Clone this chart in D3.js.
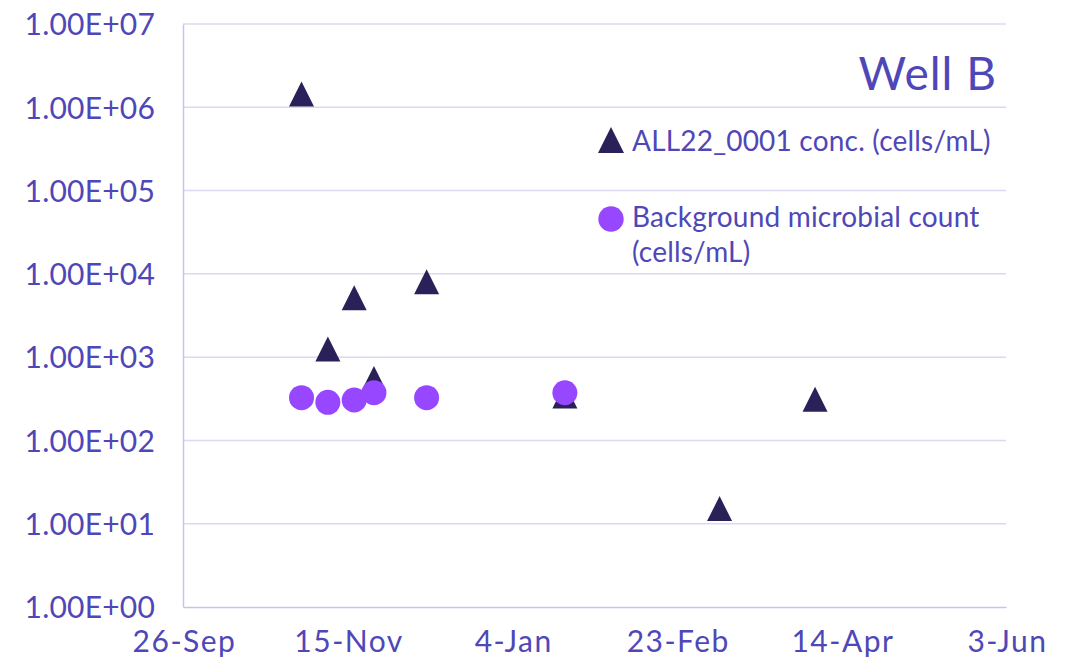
<!DOCTYPE html>
<html>
<head>
<meta charset="utf-8">
<script src="https://cdn.jsdelivr.net/npm/d3@7"></script>
<style>
  html, body { margin: 0; padding: 0; background: #fff; }
  svg text { font-family: "Lato", "Noto Sans", sans-serif; fill: #4F47B8; }
</style>
</head>
<body>
<svg id="chart" width="1073" height="660"></svg>
<script>
// Sampling dates (day-month-year)
const allDates = ["2022-11-01", "2022-11-09", "2022-11-17", "2022-11-23", "2022-12-09", "2023-01-20", "2023-03-08", "2023-04-06"];
// ALL22_0001 concentration (cells/mL)
const allValues = [1.44e6, 1250, 5170, 554, 8020, 341, 15.2, 312];
// Background microbial count (cells/mL)
const bgDates = ["2022-11-01", "2022-11-09", "2022-11-17", "2022-11-23", "2022-12-09", "2023-01-20"];
const bgValues = [326, 287, 306, 374, 326, 374];
// Axis ticks
const xTickDates = ["2022-09-26", "2022-11-15", "2023-01-04", "2023-02-23", "2023-04-14", "2023-06-03"];
const yTickValues = [1, 10, 100, 1e3, 1e4, 1e5, 1e6, 1e7];

const parse = d3.utcParse("%Y-%m-%d");
const svg = d3.select("#chart");
const margin = { left: 183, right: 1006, top: 24, bottom: 607 };

const x = d3.scaleUtc()
  .domain([parse(xTickDates[0]), parse(xTickDates[xTickDates.length - 1])])
  .range([margin.left, margin.right]);
const y = d3.scaleLog().domain([1, 1e7]).range([margin.bottom, margin.top]);

// Horizontal gridlines
svg.append("g").selectAll("line")
  .data(yTickValues.slice(1))
  .join("line")
  .attr("x1", margin.left).attr("x2", margin.right)
  .attr("y1", d => y(d)).attr("y2", d => y(d))
  .attr("stroke", "#DCD8F0").attr("stroke-width", 1.5);

// Y axis
const yAxis = svg.append("g")
  .attr("transform", `translate(${margin.left},0)`)
  .call(d3.axisLeft(y).tickValues(yTickValues)
    .tickFormat(d => d3.format(".2e")(d).replace("e", "E").replace(/E([+-])(\d)$/, "E$10$2"))
    .tickSize(0).tickPadding(28));
yAxis.select(".domain").attr("stroke", "#C9C3EA").attr("stroke-width", 1.5);
yAxis.selectAll("text").attr("font-size", 30).attr("letter-spacing", 0.2)
  .attr("fill", "#4F47B8").attr("dy", "0.36em");

// X axis
const xAxis = svg.append("g")
  .attr("transform", `translate(0,${margin.bottom})`)
  .call(d3.axisBottom(x).tickValues(xTickDates.map(parse))
    .tickFormat(d3.utcFormat("%-d-%b")).tickSize(0).tickPadding(24));
xAxis.select(".domain").attr("stroke", "#C9C3EA").attr("stroke-width", 1.5);
xAxis.selectAll("text").attr("font-size", 30).attr("letter-spacing", 1.5)
  .attr("fill", "#4F47B8").attr("dx", "1");

// Triangle centred on its bounding box
const triPath = s => `M0,${-s / 2}L${s / 2},${s / 2}L${-s / 2},${s / 2}Z`;

// ALL22_0001 markers
svg.append("g").selectAll("path")
  .data(allDates.map((d, i) => ({ date: parse(d), value: allValues[i] })))
  .join("path")
  .attr("transform", d => `translate(${x(d.date)},${y(d.value)})`)
  .attr("d", triPath(25))
  .attr("fill", "#2A2158");

// Background count markers
svg.append("g").selectAll("circle")
  .data(bgDates.map((d, i) => ({ date: parse(d), value: bgValues[i] })))
  .join("circle")
  .attr("cx", d => x(d.date)).attr("cy", d => y(d.value))
  .attr("r", 12.5)
  .attr("fill", "#9747FF");

// Title
svg.append("text").attr("x", 997).attr("y", 90).attr("text-anchor", "end")
  .attr("font-size", 46).attr("letter-spacing", 1).text("Well B");

// Legend
const legend = svg.append("g");
legend.append("path").attr("transform", "translate(611,140)").attr("d", triPath(26)).attr("fill", "#2A2158");
legend.append("text").attr("x", 632).attr("y", 151).attr("font-size", 28).attr("letter-spacing", 0.2)
  .text("ALL22_0001 conc. (cells/mL)");
legend.append("circle").attr("cx", 611).attr("cy", 219).attr("r", 12.7).attr("fill", "#9747FF");
legend.append("text").attr("x", 632).attr("y", 227).attr("font-size", 28).attr("letter-spacing", 0.2)
  .text("Background microbial count");
legend.append("text").attr("x", 632).attr("y", 262).attr("font-size", 28).attr("letter-spacing", 0.2)
  .text("(cells/mL)");
</script>
</body>
</html>
